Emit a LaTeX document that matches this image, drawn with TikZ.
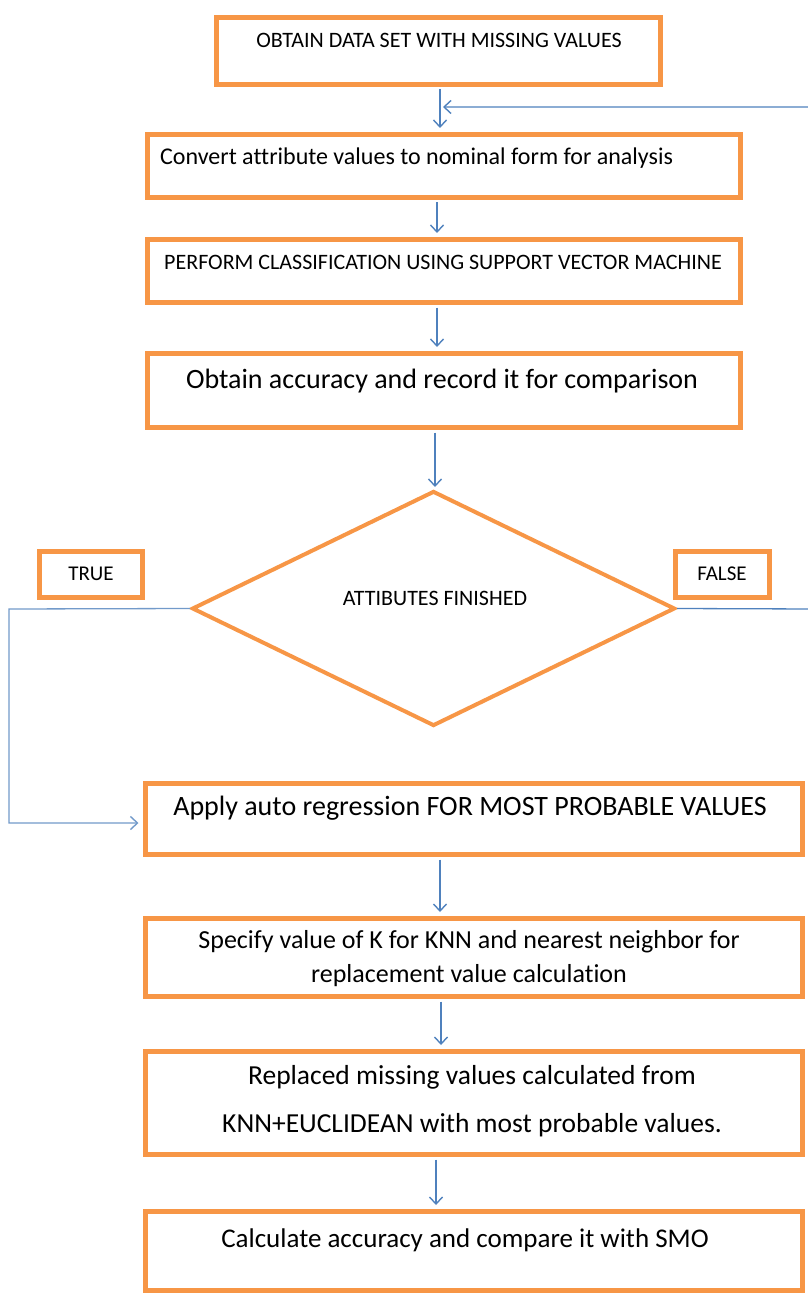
\documentclass[tikz,border=0pt]{standalone}
\usepackage{fontspec}
\setmainfont{Carlito}[Ligatures=NoCommon]
\usetikzlibrary{arrows.meta,shapes.geometric}
\definecolor{borange}{HTML}{F79646}
\definecolor{ablue}{HTML}{4F81BD}
\begin{document}
\begin{tikzpicture}[x=1pt,y=-1pt,
  box/.style={draw=borange, line width=5pt, rectangle, inner sep=0pt},
  txt/.style={inner sep=0pt, text=black},
  arr/.style={draw=ablue, line width=1.4pt, -{Straight Barb[length=7pt,width=13pt,line width=1.4pt]}},
  conn/.style={draw=ablue!80, line width=1.3pt}]
\useasboundingbox (0,0) rectangle (807,1305);
% boxes
\node[box, minimum width=444pt, minimum height=67pt] (b1) at (438.5,51) {};
\node[box, minimum width=593pt, minimum height=63pt] (b2) at (444,166) {};
\node[box, minimum width=593pt, minimum height=63pt] (b3) at (444,271) {};
\node[box, minimum width=593pt, minimum height=74pt] (b4) at (444,390.5) {};
\node[draw=borange, line width=4pt, diamond, inner sep=0pt, minimum width=483pt, minimum height=235pt] (d) at (433.5,608.5) {};
\node[box, minimum width=103pt, minimum height=46pt] (tr) at (91,574.5) {};
\node[box, minimum width=94pt, minimum height=46pt] (fa) at (722.5,574.5) {};
\node[box, minimum width=657pt, minimum height=71pt] (b5) at (474,819) {};
\node[box, minimum width=657pt, minimum height=78pt] (b6) at (474,957.5) {};
\node[box, minimum width=657pt, minimum height=103pt] (b7) at (474,1103) {};
\node[box, minimum width=657pt, minimum height=79pt] (b8) at (474,1251) {};
% texts
\node[txt, font=\fontsize{22}{26}\selectfont] (t1) at (439,40) {OBTAIN DATA SET WITH MISSING VALUES};
\node[txt, anchor=west, font=\fontsize{24}{28}\selectfont] (t2) at (160,158) {Convert attribute values to nominal form for analysis};
\node[txt, font=\fontsize{22}{26}\selectfont] (t3) at (443,262) {PERFORM CLASSIFICATION USING SUPPORT VECTOR MACHINE};
\node[txt, font=\fontsize{28}{32}\selectfont] (t4) at (442,381) {Obtain accuracy and record it for comparison};
\node[txt, font=\fontsize{22}{26}\selectfont] (td) at (435,598) {ATTIBUTES FINISHED};
\node[txt, font=\fontsize{21}{25}\selectfont] (ttr) at (91,574) {TRUE};
\node[txt, font=\fontsize{21}{25}\selectfont] (tfa) at (722,574) {FALSE};
\node[txt, font=\fontsize{28}{32}\selectfont] (t5) at (470,808) {Apply auto regression FOR MOST PROBABLE VALUES};
\node[txt, font=\fontsize{26}{34}\selectfont, align=center] (t6) at (469,959) {Specify value of K for KNN and nearest neighbor for\\replacement value calculation};
\node[txt, font=\fontsize{27.5}{48}\selectfont, align=center] (t7) at (472,1101) {Replaced missing values calculated from\\KNN+EUCLIDEAN with most probable values.};
\node[txt, font=\fontsize{27}{31}\selectfont] (t8) at (465,1240) {Calculate accuracy and compare it with SMO};
% connectors
\coordinate (join) at ([xshift=1.5pt,yshift=-20pt]b1.south);
\draw[arr] ([xshift=1.5pt,yshift=-2.5pt]b1.south) -- ([xshift=-4pt,yshift=4pt]b2.north);
\draw[arr] ([xshift=-7pt,yshift=-2.5pt]b2.south) -- ([xshift=-7pt,yshift=4pt]b3.north);
\draw[arr] ([xshift=-7pt,yshift=-2.5pt]b3.south) -- ([xshift=-7pt,yshift=4pt]b4.north);
\draw[arr] ([xshift=-9pt,yshift=-2.5pt]b4.south) -- ([xshift=1.5pt,yshift=2pt]d.north);
\draw[arr] ([xshift=-34pt,yshift=-2.5pt]b5.south) -- ([xshift=-34pt,yshift=4pt]b6.north);
\draw[arr] ([xshift=-33pt,yshift=-2.5pt]b6.south) -- ([xshift=-33pt,yshift=4pt]b7.north);
\draw[arr] ([xshift=-38pt,yshift=-2.5pt]b7.south) -- ([xshift=-38pt,yshift=4pt]b8.north);
\draw[conn, -{Straight Barb[length=7pt,width=13pt,line width=1.4pt]}] (d.west) -- (9,609) |- ([xshift=-4.5pt,yshift=-4pt]b5.west);
\draw[conn, draw=ablue, -{Straight Barb[length=7pt,width=13pt,line width=1.4pt]}] (d.east) -- (815,609) -- (815,107) -- ([xshift=3pt]join);
\end{tikzpicture}
\end{document}
